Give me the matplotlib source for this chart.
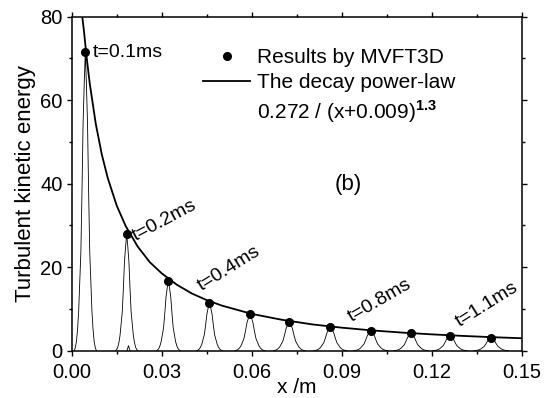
import numpy as np
import matplotlib
matplotlib.use('Agg')
import matplotlib.pyplot as plt
from matplotlib.lines import Line2D
from matplotlib.ticker import MultipleLocator

plt.rcParams['font.family'] = ['Liberation Sans', 'DejaVu Sans']
plt.rcParams['mathtext.fontset'] = 'custom'
plt.rcParams['mathtext.rm'] = 'Liberation Sans'
plt.rcParams['mathtext.bf'] = 'Liberation Sans:bold'

# MVFT3D peak values (dots)
peak_x = [0.0045, 0.0183, 0.0322, 0.0459, 0.0594, 0.0725, 0.0862, 0.0997, 0.1131, 0.1261, 0.1398]
peak_y = [71.6, 28.0, 16.8, 11.5, 8.8, 6.95, 5.7, 4.8, 4.17, 3.6, 3.1]
# half base width of each profile (in x /m)
peak_w = [0.0037, 0.0037, 0.0040, 0.0043, 0.0050, 0.0053, 0.0055, 0.0057, 0.0057, 0.0057, 0.0057]

# profile shape: offset (fraction of half width) vs fraction of peak height
shape_u = [0.0, 0.1, 0.2, 0.3, 0.4, 0.5, 0.6, 0.7, 0.8, 0.9, 1.0]
shape_f = [1.0, 0.89, 0.76, 0.53, 0.33, 0.23, 0.13, 0.07, 0.03, 0.01, 0.0]

# small bump at the base of the second profile
bump_x = [0.0184, 0.0189, 0.0194]
bump_y = [0.0, 1.2, 0.0]

# decay power-law curve
curve_x = [0.0034, 0.004, 0.005, 0.006, 0.008, 0.010, 0.012, 0.015, 0.018, 0.022, 0.026,
           0.030, 0.035, 0.040, 0.045, 0.050, 0.060, 0.070, 0.080, 0.090, 0.100, 0.110,
           0.120, 0.130, 0.140, 0.150]
curve_y = [80.5, 76.9, 69.9, 63.9, 54.3, 47.0, 41.3, 34.7, 29.8, 24.9, 21.2,
           18.5, 15.8, 13.7, 12.1, 10.8, 8.8, 7.4, 6.3, 5.5, 4.85, 4.33,
           3.9, 3.54, 3.23, 2.97]

labels_t = ['t=0.1ms', 't=0.2ms', 't=0.4ms', 't=0.8ms', 't=1.1ms']
labels_pos = [(0.0071, 71.5), (0.0214, 26.2), (0.0432, 14.3), (0.0932, 6.8), (0.1292, 5.6)]
labels_rot = [0, 28, 32, 30, 32]

fig = plt.figure(figsize=(5.44, 3.98), dpi=100)
ax = fig.add_axes([0.132, 0.119, 0.827, 0.839])

# profiles
u = np.array(shape_u)
f = np.array(shape_f)
for xc, yc, w in zip(peak_x, peak_y, peak_w):
    xs = np.concatenate([xc - w*u[::-1], xc + w*u[1:]])
    ys = np.concatenate([yc*f[::-1], yc*f[1:]])
    ax.plot(xs, ys, color='k', lw=0.6)
ax.plot(bump_x, bump_y, color='k', lw=0.6)

ax.plot(curve_x, curve_y, color='k', lw=1.3)
ax.plot(peak_x, peak_y, 'o', color='k', markersize=5.5)

for txt, (tx, ty), rot in zip(labels_t, labels_pos, labels_rot):
    if rot == 0:
        ax.text(tx, ty, txt, fontsize=14, ha='left', va='center')
    else:
        ax.text(tx, ty, txt, fontsize=14, ha='left', va='baseline',
                rotation=rot, rotation_mode='anchor')

ax.text(0.0921, 39.7, '(b)', fontsize=16, ha='center', va='center')

h1 = Line2D([], [], ls='none', marker='o', color='k', markersize=5.5)
h2 = Line2D([], [], color='k', lw=1.3)
h3 = Line2D([], [], ls='none')
ax.legend([h1, h2, h3], ['Results by MVFT3D', 'The decay power-law',
                         r'0.272 / (x+0.009)$^{\mathbf{1.3}}$'],
          loc='upper left', bbox_to_anchor=(0.292, 0.905), frameon=False,
          fontsize=15, handlelength=2.25, handletextpad=0.32, labelspacing=0.28,
          borderpad=0, borderaxespad=0)

ax.set_xlim(0, 0.15)
ax.set_ylim(0, 80)
ax.xaxis.set_major_locator(MultipleLocator(0.03))
ax.xaxis.set_minor_locator(MultipleLocator(0.015))
ax.yaxis.set_major_locator(MultipleLocator(20))
ax.yaxis.set_minor_locator(MultipleLocator(10))
ax.xaxis.set_major_formatter(plt.FormatStrFormatter('%.2f'))
ax.tick_params(which='both', direction='out', top=True, right=True, labelsize=14.5, width=1)
ax.tick_params(which='major', length=3.6)
ax.tick_params(axis='x', which='major', pad=5.5)
ax.tick_params(axis='y', which='major', pad=3)
ax.tick_params(which='minor', length=2)
for s in ax.spines.values():
    s.set_linewidth(1.1)

ax.set_xlabel('x /m', fontsize=15)
ax.xaxis.set_label_coords(0.5, -0.082)
ax.set_ylabel('Turbulent kinetic energy', fontsize=16, labelpad=3)

fig.savefig('out.png', dpi=100)
